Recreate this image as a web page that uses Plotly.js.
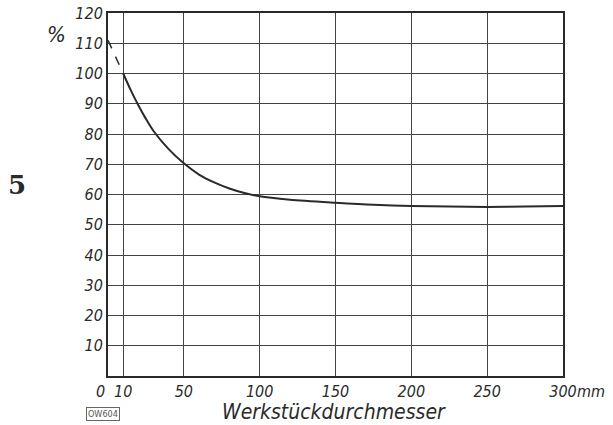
<!DOCTYPE html>
<html>
<head>
<meta charset="utf-8">
<script src="https://cdn.plot.ly/plotly-3.0.1.min.js"></script>
<style>html,body{margin:0;padding:0;background:#fff;}#chart{width:613px;height:425px;}</style>
</head>
<body>
<div id="chart"></div>
<script>
// Data
const diameterMm = [10, 15, 20, 25, 30, 40, 50, 60, 70, 80, 90, 100, 120, 150, 175, 200, 225, 250, 275, 300];
const percentValues = [100, 94.5, 89.5, 85, 81, 75, 70.3, 66.6, 64, 62, 60.5, 59.4, 58.3, 57.3, 56.6, 56.2, 56.0, 55.9, 56.0, 56.2];
const extrapX = [0, 10];
const extrapY = [111, 100];
const xTickVals = [10, 50, 100, 150, 200, 250, 300];
const xTickText = ["10", "50", "100", "150", "200", "250", "300"];
const xOriginLabel = "0";
const xUnit = "mm";
const yTickVals = [10, 20, 30, 40, 50, 60, 70, 80, 90, 100, 110, 120];
const yTickText = ["10", "20", "30", "40", "50", "60", "70", "80", "90", "100", "110", "120"];

const FONT = "DejaVu Sans Condensed, DejaVu Sans, sans-serif";
const INK = "#2a2a2a";
const it = s => "<i>" + s + "</i>";

const traces = [
  {x: extrapX, y: extrapY, mode: "lines", line: {color: INK, width: 1.5, dash: "dash"}, hoverinfo: "skip"},
  {x: diameterMm, y: percentValues, mode: "lines", line: {color: INK, width: 2, shape: "spline", smoothing: 0.8}, hoverinfo: "skip"}
];

const tf = {family: FONT, size: 16, color: INK};

const layout = {
  width: 613, height: 425,
  margin: {l: 108, r: 50, t: 13, b: 49},
  paper_bgcolor: "#fff", plot_bgcolor: "#fff",
  showlegend: false,
  font: {family: FONT, color: INK},
  xaxis: {
    range: [0, 300], tickvals: xTickVals, ticktext: xTickText.map(it), tickangle: 0,
    showgrid: true, gridcolor: "#444", gridwidth: 1,
    showline: true, linecolor: INK, linewidth: 2, mirror: true,
    ticks: "", zeroline: false, tickfont: tf
  },
  yaxis: {
    range: [0, 120], tickvals: yTickVals, ticktext: yTickText.map(it),
    showgrid: true, gridcolor: "#444", gridwidth: 1,
    showline: true, linecolor: INK, linewidth: 2, mirror: true,
    ticks: "", zeroline: false, tickfont: tf
  },
  annotations: [
    {text: it(xOriginLabel), xref: "paper", yref: "paper", x: (100 - 108) / 455, y: 0, xanchor: "center", yanchor: "top", yshift: -4, showarrow: false, font: tf},
    {text: it(xUnit), xref: "x", yref: "paper", x: 300, y: 0, xanchor: "left", yanchor: "top", xshift: 12, yshift: -4, showarrow: false, font: tf},
    {text: it("Werkstückdurchmesser"), xref: "paper", yref: "paper", x: (334 - 108) / 455, y: 0, xanchor: "center", yanchor: "middle", yshift: -36, showarrow: false,
     font: {family: FONT, size: 21, color: INK}},
    {text: it("%"), xref: "paper", yref: "paper", x: (56 - 108) / 455, y: 1, xanchor: "center", yanchor: "middle", yshift: -21, showarrow: false,
     font: {family: FONT, size: 22, color: INK}},
    {text: "<b>5</b>", xref: "paper", yref: "paper", x: (17 - 108) / 455, y: (376 - 185) / 363, xanchor: "center", yanchor: "middle", showarrow: false,
     font: {family: "DejaVu Serif, Liberation Serif, serif", size: 26, color: INK}},
    {text: "OW604", xref: "paper", yref: "paper", x: (103 - 108) / 455, y: 0, xanchor: "center", yanchor: "middle", yshift: -38, showarrow: false,
     bordercolor: "#666", borderwidth: 1, borderpad: 1,
     font: {family: FONT, size: 9, color: "#555"}}
  ]
};

Plotly.newPlot("chart", traces, layout, {staticPlot: true, displayModeBar: false});
</script>
</body>
</html>
